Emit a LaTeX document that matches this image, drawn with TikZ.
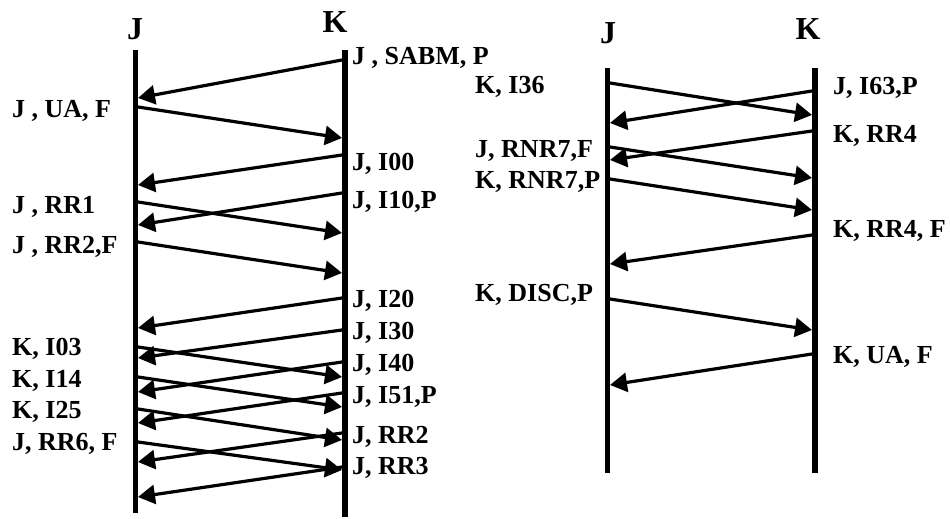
\documentclass[tikz,border=0pt]{standalone}
\usepackage{fontspec}
\setmainfont{Liberation Serif}
\usetikzlibrary{arrows.meta}

\begin{document}
\begin{tikzpicture}[
    x=1pt, y=-1pt,
    lifeline/.style={line width=5.5pt},
    msg/.style={line width=3.2pt, -{Triangle[length=17pt,width=19pt]}},
    lbl/.style={inner sep=0pt, font=\fontsize{26}{30}\selectfont\bfseries},
    who/.style={inner sep=0pt, anchor=base, font=\fontsize{32}{36}\selectfont\bfseries}
  ]
  \useasboundingbox (0,0) rectangle (950,519);

  % Left exchange: lifelines
  \node[who] (jA) at (135,40) {J};
  \node[who] (kA) at (335,33) {K};
  \coordinate (jAtop) at (135.5,50);
  \coordinate (jAbot) at (135.5,513);
  \coordinate (kAtop) at (345,50);
  \coordinate (kAbot) at (345,517);
  \draw[lifeline] (jAtop) -- (jAbot);
  \draw[lifeline] (kAtop) -- (kAbot);
  \coordinate (jAR) at (138,0);
  \coordinate (kAL) at (342,0);

  % Left exchange: frames sent by K
  \node[lbl, anchor=base west] (sabm) at (352,65) {J , SABM, P};
  \node[lbl, anchor=base west] (i00) at (352,170) {J, I00};
  \node[lbl, anchor=base west] (i10) at (352,208) {J, I10,P};
  \node[lbl, anchor=base west] (i20) at (352,307) {J, I20};
  \node[lbl, anchor=base west] (i30) at (352,339) {J, I30};
  \node[lbl, anchor=base west] (i40) at (352,371) {J, I40};
  \node[lbl, anchor=base west] (i51) at (352,403) {J, I51,P};
  \node[lbl, anchor=base west] (rrtwo) at (352,443) {J, RR2};
  \node[lbl, anchor=base west] (rrthree) at (352,474) {J, RR3};

  % Left exchange: frames sent by J
  \node[lbl, anchor=base west] (uaA) at (12,117) {J , UA, F};
  \node[lbl, anchor=base west] (rrone) at (12,213) {J , RR1};
  \node[lbl, anchor=base west] (rrtwof) at (12,253) {J , RR2,F};
  \node[lbl, anchor=base west] (i03) at (12,355) {K, I03};
  \node[lbl, anchor=base west] (i14) at (12,387) {K, I14};
  \node[lbl, anchor=base west] (i25) at (12,418) {K, I25};
  \node[lbl, anchor=base west] (rrsix) at (12,450) {J, RR6, F};

  % Left exchange: arrows
  \draw[msg] (kAL |- 0,60) -- (jAR |- 0,98);
  \draw[msg] (jAR |- 0,107) -- (kAL |- 0,138);
  \draw[msg] (kAL |- 0,155) -- (jAR |- 0,185);
  \draw[msg] (kAL |- 0,193) -- (jAR |- 0,225);
  \draw[msg] (jAR |- 0,202) -- (kAL |- 0,233);
  \draw[msg] (jAR |- 0,242) -- (kAL |- 0,273);
  \draw[msg] (kAL |- 0,298) -- (jAR |- 0,328);
  \draw[msg] (kAL |- 0,330) -- (jAR |- 0,358);
  \draw[msg] (jAR |- 0,347) -- (kAL |- 0,377);
  \draw[msg] (kAL |- 0,362) -- (jAR |- 0,392);
  \draw[msg] (jAR |- 0,377) -- (kAL |- 0,407);
  \draw[msg] (kAL |- 0,393) -- (jAR |- 0,423);
  \draw[msg] (jAR |- 0,409) -- (kAL |- 0,440);
  \draw[msg] (kAL |- 0,433) -- (jAR |- 0,462);
  \draw[msg] (jAR |- 0,442) -- (kAL |- 0,470);
  \draw[msg] (kAL |- 0,467) -- (jAR |- 0,497);

  % Right exchange: lifelines
  \node[who] (jB) at (608,44) {J};
  \node[who] (kB) at (808,40) {K};
  \coordinate (jBtop) at (607.5,68);
  \coordinate (jBbot) at (607.5,473);
  \coordinate (kBtop) at (815,68);
  \coordinate (kBbot) at (815,473);
  \draw[lifeline] (jBtop) -- (jBbot);
  \draw[lifeline] (kBtop) -- (kBbot);
  \coordinate (jBR) at (610,0);
  \coordinate (kBL) at (812,0);

  % Right exchange: labels
  \node[lbl, anchor=base west] (i36) at (475,93) {K, I36};
  \node[lbl, anchor=base west] (rnrf) at (475,157) {J, RNR7,F};
  \node[lbl, anchor=base west] (rnrp) at (475,188) {K, RNR7,P};
  \node[lbl, anchor=base west] (disc) at (475,301) {K, DISC,P};
  \node[lbl, anchor=base west] (i63) at (833,95) {J, I63,P};
  \node[lbl, anchor=base west] (rrfour) at (833,142) {K, RR4};
  \node[lbl, anchor=base west] (rrfourf) at (833,237) {K, RR4, F};
  \node[lbl, anchor=base west] (uaB) at (833,363) {K, UA, F};

  % Right exchange: arrows
  \draw[msg] (jBR |- 0,83) -- (kBL |- 0,115);
  \draw[msg] (kBL |- 0,91) -- (jBR |- 0,123);
  \draw[msg] (kBL |- 0,131) -- (jBR |- 0,160);
  \draw[msg] (jBR |- 0,147) -- (kBL |- 0,178);
  \draw[msg] (jBR |- 0,179) -- (kBL |- 0,210);
  \draw[msg] (kBL |- 0,235) -- (jBR |- 0,264);
  \draw[msg] (jBR |- 0,299) -- (kBL |- 0,330);
  \draw[msg] (kBL |- 0,354) -- (jBR |- 0,385);

\end{tikzpicture}
\end{document}
